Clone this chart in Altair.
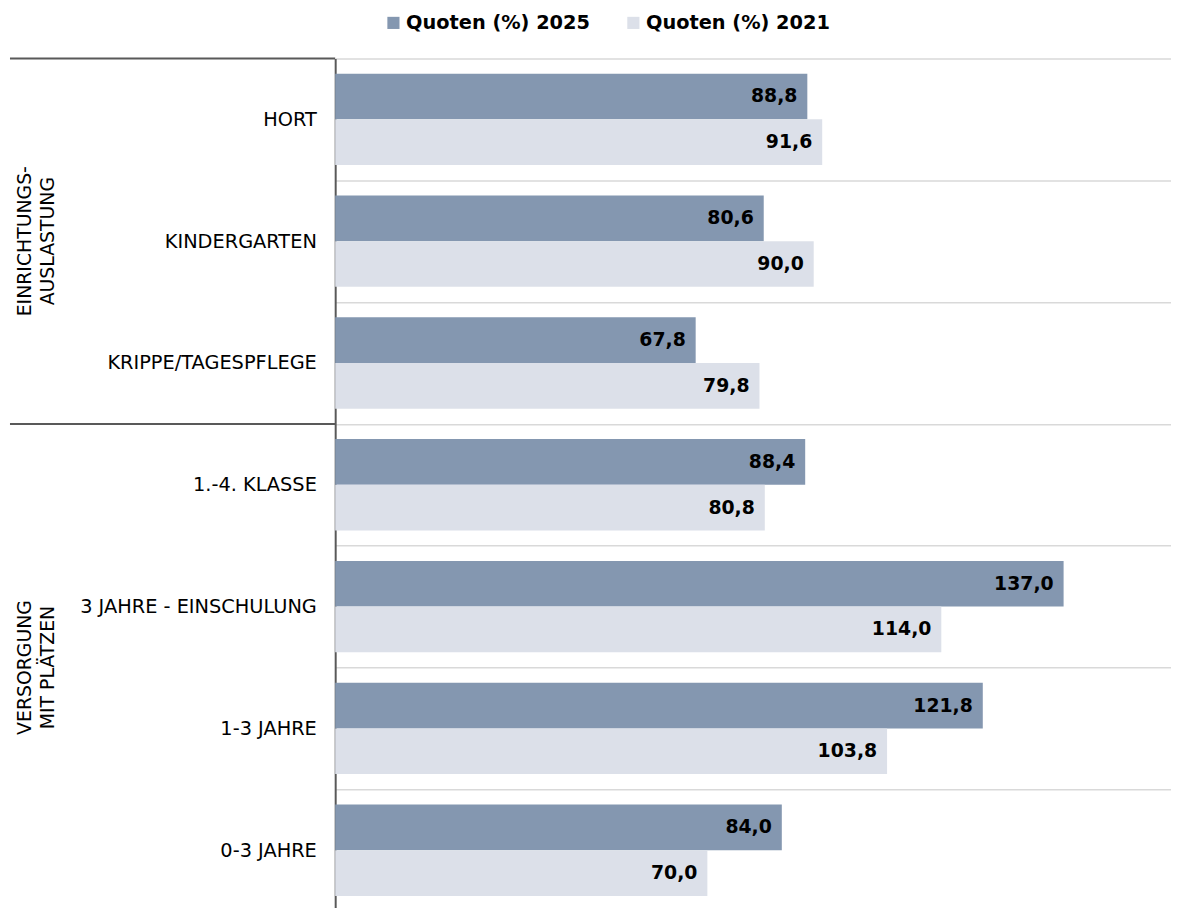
import altair as alt
import pandas as pd

categories = ["HORT", "KINDERGARTEN", "KRIPPE/TAGESPFLEGE", "1.-4. KLASSE",
              "3 JAHRE - EINSCHULUNG", "1-3 JAHRE", "0-3 JAHRE"]
q2025 = [88.8, 80.6, 67.8, 88.4, 137.0, 121.8, 84.0]
q2021 = [91.6, 90.0, 79.8, 80.8, 114.0, 103.8, 70.0]
series = ["Quoten (%) 2025", "Quoten (%) 2021"]
colors = ["#8497b0", "#dce0e9"]
group_starts = ["HORT", "1.-4. KLASSE"]
group_labels = ["EINRICHTUNGS-\nAUSLASTUNG", "VERSORGUNG\nMIT PLÄTZEN"]
group_anchor = ["KINDERGARTEN", "1-3 JAHRE"]

FONT = "DejaVu Sans"

rows = []
for c, a, b in zip(categories, q2025, q2021):
    rows.append({"cat": c, "series": series[0], "value": a, "label": f"{a:.1f}".replace(".", ",")})
    rows.append({"cat": c, "series": series[1], "value": b, "label": f"{b:.1f}".replace(".", ",")})
df = pd.DataFrame(rows)

W, H = 843, 860

y_main = alt.Y("cat:N", sort=categories, title=None,
               scale=alt.Scale(paddingInner=0, paddingOuter=0),
               axis=alt.Axis(grid=True, tickBand="extent", ticks=False, labelFontSize=19.5,
                             labelFont=FONT, labelColor="black", labelPadding=19,
                             domainColor="#595959", domainWidth=2, gridColor="#d9d9d9",
                             gridWidth=1.5, labelLimit=400))
y_off = alt.YOffset("series:N", sort=series, scale=alt.Scale(paddingOuter=0.333, paddingInner=0))
x_enc = alt.X("value:Q", scale=alt.Scale(domain=[0, 157.2]), axis=None)

base = alt.Chart(df)
bars = base.mark_bar().encode(
    y=y_main, yOffset=y_off, x=x_enc,
    color=alt.Color("series:N", sort=series,
                    scale=alt.Scale(domain=series, range=colors),
                    legend=alt.Legend(title=None, orient="none", direction="horizontal",
                                      legendX=49, legendY=-46, symbolType="square",
                                      symbolSize=150, symbolStrokeWidth=0, labelOffset=3,
                                      labelFontSize=19.5, labelFont=FONT, labelFontWeight="bold",
                                      labelColor="black", columnPadding=34, labelLimit=400)),
)
labels = base.mark_text(align="right", baseline="middle", dx=-10, fontSize=19,
                        fontWeight="bold", font=FONT, color="black").encode(
    y=alt.Y("cat:N", sort=categories), yOffset=y_off, x=x_enc, text="label:N")

sep_df = pd.DataFrame({"cat": group_starts})
seps = alt.Chart(sep_df).mark_rule(color="#595959", strokeWidth=2).encode(
    y=alt.Y("cat:N", sort=categories, bandPosition=0),
    x=alt.value(-328), x2=alt.value(0))

g1 = alt.Chart(pd.DataFrame({"cat": [group_anchor[0]], "g": [group_labels[0]]})).mark_text(
    angle=270, lineBreak="\n", align="center", baseline="middle", fontSize=19,
    font=FONT, color="black", lineHeight=23).encode(
    y=alt.Y("cat:N", sort=categories, bandPosition=0.5), x=alt.value(-313), text="g:N")
g2 = alt.Chart(pd.DataFrame({"cat": [group_anchor[1]], "g": [group_labels[1]]})).mark_text(
    angle=270, lineBreak="\n", align="center", baseline="middle", fontSize=19,
    font=FONT, color="black", lineHeight=23).encode(
    y=alt.Y("cat:N", sort=categories, bandPosition=0), x=alt.value(-313), text="g:N")

chart = alt.layer(bars, labels, seps, g1, g2).properties(
    width=W, height=H,
    autosize=alt.AutoSizeParams(type="none"),
    padding={"left": 330, "top": 47, "right": 0, "bottom": 0},
).configure_view(strokeWidth=0)

chart.save("out.html", embed_options={"renderer": "svg", "actions": False})
